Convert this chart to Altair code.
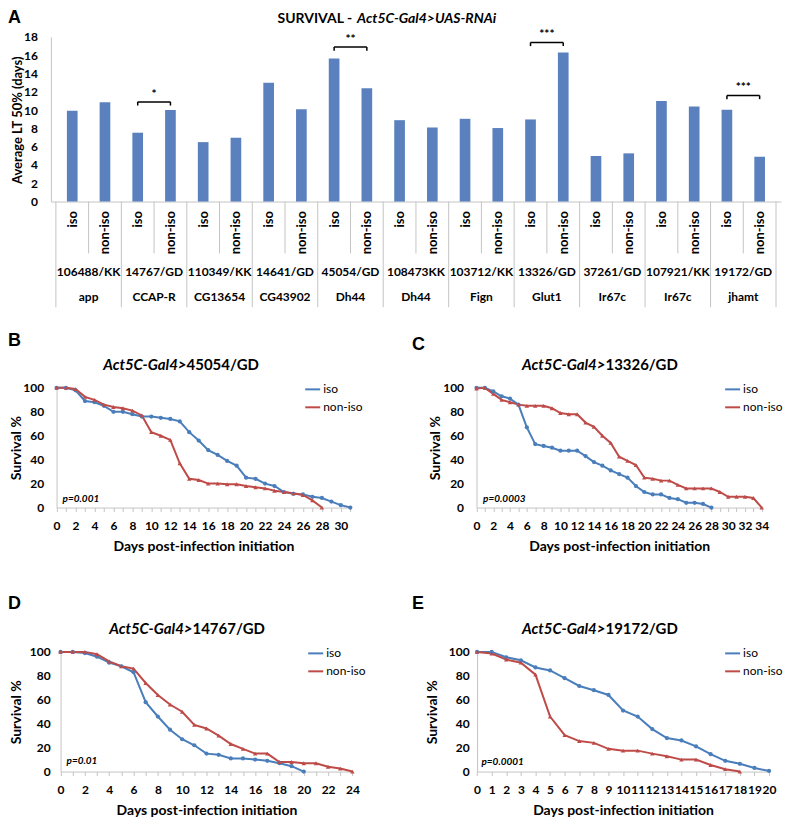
import altair as alt
import pandas as pd

# ---------------- Panel A data ----------------
genes = ["app", "CCAP-R", "CG13654", "CG43902", "Dh44", "Dh44", "Fign", "Glut1", "Ir67c", "Ir67c", "jhamt"]
lines = ["106488/KK", "14767/GD", "110349/KK", "14641/GD", "45054/GD", "108473KK",
         "103712/KK", "13326/GD", "37261/GD", "107921/KK", "19172/GD"]
lt50_iso = [9.93, 7.53, 6.50, 12.98, 15.64, 8.90, 9.05, 8.98, 4.98, 11.00, 10.04]
lt50_noniso = [10.87, 10.00, 6.98, 10.10, 12.40, 8.10, 8.04, 16.30, 5.27, 10.40, 4.90]
sig_groups = [1, 4, 7, 10]
sig_levels = [10.9, 16.9, 17.4, 11.6]
sig_labels = ["*", "**", "***", "***"]
conditions = ["iso", "non-iso"]

# ---------------- Survival curves (one value per day from day 0) ----------------
b_iso = [100, 100, 98, 89, 88, 85, 80, 80, 78, 76, 76, 75, 74, 72, 63, 56, 48, 44, 39, 35,
         25, 24, 20, 18, 13, 11.5, 11, 9, 8, 5, 2, 0]
b_non = [100, 100, 99, 92.5, 90, 86, 84, 83, 81, 77, 63, 60, 56.5, 37, 24, 23, 20, 20, 19.5,
         19.5, 18, 17, 16, 14, 13, 12, 10.5, 6, 0]
c_iso = [100, 100, 97, 93, 91, 86, 67, 53, 51.5, 50, 47.5, 47.5, 47.5, 43, 38, 35, 31, 28, 25,
         18, 13, 11, 11, 8, 7, 4, 4, 3, 0]
c_non = [99.5, 100, 95, 90, 88, 86, 85, 85, 85, 83, 79, 78, 78, 71, 67.5, 60, 54, 42.5, 39, 35.5,
         25, 24, 22.5, 22.5, 19, 16, 16, 16, 16, 13, 9, 9, 9, 8, 0]
d_iso = [100, 100, 99, 96, 91, 88, 83, 58, 46, 35, 27, 22, 15, 14, 11, 11, 10, 9, 7, 4.5, 0]
d_non = [100, 100, 100, 98, 92, 88, 86, 74, 64, 56, 50, 39, 36, 30, 23, 19, 15, 15, 8, 8, 7, 7,
         4, 2.5, 0]
e_iso = [100, 100, 95.5, 93, 87, 84.5, 78, 71.5, 68, 64, 51, 46, 35.5, 28, 26, 21, 14.5, 9, 6.5, 3, 0.5]
e_non = [100, 98.6, 93.6, 91, 81, 46, 30.5, 25.5, 24, 19, 17.5, 17.5, 15, 12.8, 10, 10, 5.5, 2, 0]

panel_letters = ["B", "C", "D", "E"]
panel_lines = ["45054/GD", "13326/GD", "14767/GD", "19172/GD"]
panel_days = [31, 34, 24, 20]
panel_label_step = [2, 2, 2, 1]
p_values = ["p=0.001", "p=0.0003", "p=0.01", "p=0.0001"]
p_days = [0.63, 0.78, 0.49, 0.3]
p_surv = [6.9, 6.9, 8.9, 8.3]

# ---------------- style / layout ----------------
FONT = "Lato"
LETTER_FONT = "Liberation Sans"
INK = "#000000"
BLUE = "#4A7EBB"
RED = "#BE4B48"
BAR = "#5B80BE"
GRID = "#C4C4C4"
TIP = 0.4
LEFT = -43  # x of the panel letters, relative to each panel's origin

# positions relative to each panel's origin (top-left of its view)
layouts = [
    dict(inset=5.7, xw=294.5, w=312, split=136, ty=-23, ly=-55.6, legx=254, legy=-7, ypad=13, ytx=-40.5),
    dict(inset=21.7, xw=286.0, w=320, split=151, ty=-23, ly=-52.3, legx=270, legy=-7, ypad=13, ytx=-40.7),
    dict(inset=9.7, xw=292.6, w=315, split=142, ty=-22.7, ly=-57, legx=257, legy=-7, ypad=10.5, ytx=-44.5),
    dict(inset=22.3, xw=292.7, w=320, split=151, ty=-22.7, ly=-57, legx=270, legy=-7, ypad=8, ytx=-44.3),
]
PH = 120  # survival plot height


def text_layer(txt, x, y, size, weight="bold", style="normal", align="left", baseline="middle", font=FONT):
    return alt.Chart(pd.DataFrame({"t": [txt]})).mark_text(
        font=font, fontSize=size, fontWeight=weight, fontStyle=style,
        align=align, baseline=baseline, color=INK,
    ).encode(x=alt.value(x), y=alt.value(y), text="t:N")


# ---------------- Panel A ----------------
AW, AH = 732, 165
rowsA = []
for g in range(len(genes)):
    rowsA.append({"idx": 2 * g, "val": lt50_iso[g], "cond": "iso"})
    rowsA.append({"idx": 2 * g + 1, "val": lt50_noniso[g], "cond": "non-iso"})
dfA = pd.DataFrame(rowsA)
nb = len(rowsA)

xA = alt.Scale(domain=[-0.5, nb - 0.5], nice=False, zero=False)
yA = alt.Scale(domain=[0, 18], nice=False, zero=True)

xaxisA = alt.Axis(
    values=list(range(nb)),
    labelExpr="datum.value % 2 == 0 ? 'iso' : 'non-iso'",
    labelAngle=270, labelAlign="right", labelBaseline="middle", labelPadding=9,
    labelFont=FONT, labelFontSize=13, labelFontWeight="bold", labelColor=INK,
    labelOverlap=False, labelFlush=False, ticks=False, tickSize=0,
    domainColor=GRID, domainWidth=1, grid=False, title="",
)
yaxisA = alt.Axis(
    values=list(range(0, 19, 2)),
    labelFont=FONT, labelFontSize=12, labelFontWeight="bold", labelColor=INK,
    labelPadding=13.5, labelFlush=False, ticks=False, tickSize=0,
    domainColor=GRID, domainWidth=1, grid=False,
    title="Average LT 50% (days)", titleFont=FONT, titleFontSize=13, titleFontWeight="bold",
    titleColor=INK, titleX=-33.5, titleY=83, titleAngle=270, titleBaseline="middle", titleAlign="center",
)


def XA(field):
    return alt.X(field, type="quantitative", scale=xA, axis=xaxisA)


def YA(field):
    return alt.Y(field, type="quantitative", scale=yA, axis=yaxisA)


bars = alt.Chart(dfA).mark_bar(size=10.7, color=BAR, orient="vertical").encode(
    x=XA("idx"), y=YA("val"),
)

sep_outer = pd.DataFrame({"pos": [2 * g - 0.5 for g in range(len(genes) + 1)]})
sep_inner = pd.DataFrame({"pos": [2 * g + 0.5 for g in range(len(genes))]})
rule_outer = alt.Chart(sep_outer).mark_rule(color=GRID, strokeWidth=1).encode(
    x=XA("pos"), y=alt.value(AH), y2=alt.value(271))
rule_inner = alt.Chart(sep_inner).mark_rule(color=GRID, strokeWidth=1).encode(
    x=XA("pos"), y=alt.value(AH), y2=alt.value(217))

dfG = pd.DataFrame({"center": [2 * g + 0.5 for g in range(len(genes))], "line": lines, "gene": genes})
row2 = alt.Chart(dfG).mark_text(font=FONT, fontSize=12, fontWeight="bold", color=INK, baseline="middle").encode(
    x=XA("center"), y=alt.value(236), text="line:N")
row3 = alt.Chart(dfG).mark_text(font=FONT, fontSize=12, fontWeight="bold", color=INK, baseline="middle").encode(
    x=XA("center"), y=alt.value(261), text="gene:N")

dfS = pd.DataFrame({
    "x1": [2 * g for g in sig_groups],
    "x2": [2 * g + 1 for g in sig_groups],
    "mid": [2 * g + 0.5 for g in sig_groups],
    "lev": sig_levels,
    "tip": [v - TIP for v in sig_levels],
    "lab": sig_labels,
})
br_h = alt.Chart(dfS).mark_rule(color=INK, strokeWidth=1.5).encode(
    x=XA("x1"), x2="x2:Q", y=YA("lev"))
br_l = alt.Chart(dfS).mark_rule(color=INK, strokeWidth=1.5).encode(
    x=XA("x1"), y=YA("lev"), y2="tip:Q")
br_r = alt.Chart(dfS).mark_rule(color=INK, strokeWidth=1.5).encode(
    x=XA("x2"), y=YA("lev"), y2="tip:Q")
stars = alt.Chart(dfS).mark_text(font=FONT, fontSize=12, fontWeight="bold", color=INK, dy=-8).encode(
    x=XA("mid"), y=YA("lev"), text="lab:N")

panelA = alt.layer(
    bars, rule_outer, rule_inner, br_h, br_l, br_r, stars, row2, row3,
    text_layer("SURVIVAL -", 302, -25.5, 14, align="right", baseline="top"),
    text_layer("Act5C-Gal4>UAS-RNAi", 307, -25.5, 14, style="italic", baseline="top"),
    text_layer("A", LEFT, -28, 18, align="left", baseline="top", font=LETTER_FONT),
).properties(width=AW, height=AH)


# ---------------- Panels B-E ----------------
def survival_panel(iso, non, k):
    lay = layouts[k]
    n_days = panel_days[k]
    df = pd.DataFrame({
        "day": list(range(len(iso))) + list(range(len(non))),
        "surv": iso + non,
        "cond": ["iso"] * len(iso) + ["non-iso"] * len(non),
    })
    x0, x1 = lay["inset"], lay["inset"] + lay["xw"]
    xs = alt.Scale(domain=[0, n_days], range=[x0, x1], nice=False, zero=False)
    ys = alt.Scale(domain=[0, 100], nice=False, zero=True)
    cs = alt.Scale(domain=conditions, range=[BLUE, RED])
    xaxis = alt.Axis(
        values=list(range(n_days + 1)),
        labelExpr=f"datum.value % {panel_label_step[k]} == 0 ? datum.label : ''",
        labelFont=FONT, labelFontSize=12, labelFontWeight="bold", labelColor=INK,
        labelPadding=9, labelOverlap=False, labelFlush=False,
        ticks=True, tickSize=4, tickColor=GRID, domainColor=GRID, grid=False,
        title="Days post-infection initiation", titleFont=FONT, titleFontSize=14,
        titleFontWeight="bold", titleColor=INK, titleX=(x0 + x1) / 2, titleY=39,
        titleBaseline="middle", titleAlign="center",
    )
    yaxis = alt.Axis(
        offset=-x0,
        values=list(range(0, 101, 20)),
        labelFont=FONT, labelFontSize=12, labelFontWeight="bold", labelColor=INK,
        labelPadding=lay["ypad"], labelFlush=False, ticks=False, tickSize=0,
        domainColor=GRID, grid=False,
        title="Survival %", titleFont=FONT, titleFontSize=14, titleFontWeight="bold",
        titleColor=INK, titleX=lay["ytx"], titleY=PH / 2, titleAngle=270,
        titleBaseline="middle", titleAlign="center",
    )
    legend = alt.Legend(
        orient="none", legendX=lay["legx"], legendY=lay["legy"], title=None,
        symbolType="stroke", symbolSize=225, symbolStrokeWidth=2,
        labelFont=FONT, labelFontSize=12, labelColor=INK, labelOffset=2,
        rowPadding=3, padding=0, direction="vertical",
    )
    X = alt.X("day:Q", scale=xs, axis=xaxis)
    Y = alt.Y("surv:Q", scale=ys, axis=yaxis)
    base = alt.Chart(df)
    line = base.mark_line(strokeWidth=2).encode(
        x=X, y=Y, color=alt.Color("cond:N", scale=cs, legend=legend),
    )
    pts_iso = base.transform_filter(alt.datum.cond == "iso").mark_point(
        filled=True, opacity=1, size=18, shape="circle", color=BLUE
    ).encode(x=X, y=Y)
    pts_non = base.transform_filter(alt.datum.cond == "non-iso").mark_point(
        filled=True, opacity=1, size=20, shape="triangle-up", color=RED
    ).encode(x=X, y=Y)
    ptxt = alt.Chart(pd.DataFrame({"day": [p_days[k]], "surv": [p_surv[k]], "t": [p_values[k]]})).mark_text(
        font=FONT, fontSize=10, fontWeight="bold", fontStyle="italic", color=INK,
        align="left", baseline="middle",
    ).encode(x=X, y=Y, text="t:N")
    return alt.layer(
        line, pts_iso, pts_non, ptxt,
        text_layer("Act5C-Gal4>", lay["split"], lay["ty"], 15, style="italic", align="right"),
        text_layer(panel_lines[k], lay["split"], lay["ty"], 15, align="left"),
        text_layer(panel_letters[k], LEFT, lay["ly"], 18, align="left", baseline="top", font=LETTER_FONT),
    ).properties(width=lay["w"], height=PH)


panelB = survival_panel(b_iso, b_non, 0)
panelC = survival_panel(c_iso, c_non, 1)
panelD = survival_panel(d_iso, d_non, 2)
panelE = survival_panel(e_iso, e_non, 3)

rowBC = alt.hconcat(panelB, panelC, spacing=49).resolve_scale(color="independent")
rowDE = alt.hconcat(panelD, panelE, spacing=46).resolve_scale(color="independent")

chart = alt.vconcat(
    panelA,
    alt.vconcat(rowBC, rowDE, spacing=41.7).resolve_scale(color="independent"),
    spacing=23.8,
).resolve_scale(color="independent").properties(padding=0).configure_view(strokeWidth=0)

chart.save("out.html", embed_options={"renderer": "svg", "actions": False})
